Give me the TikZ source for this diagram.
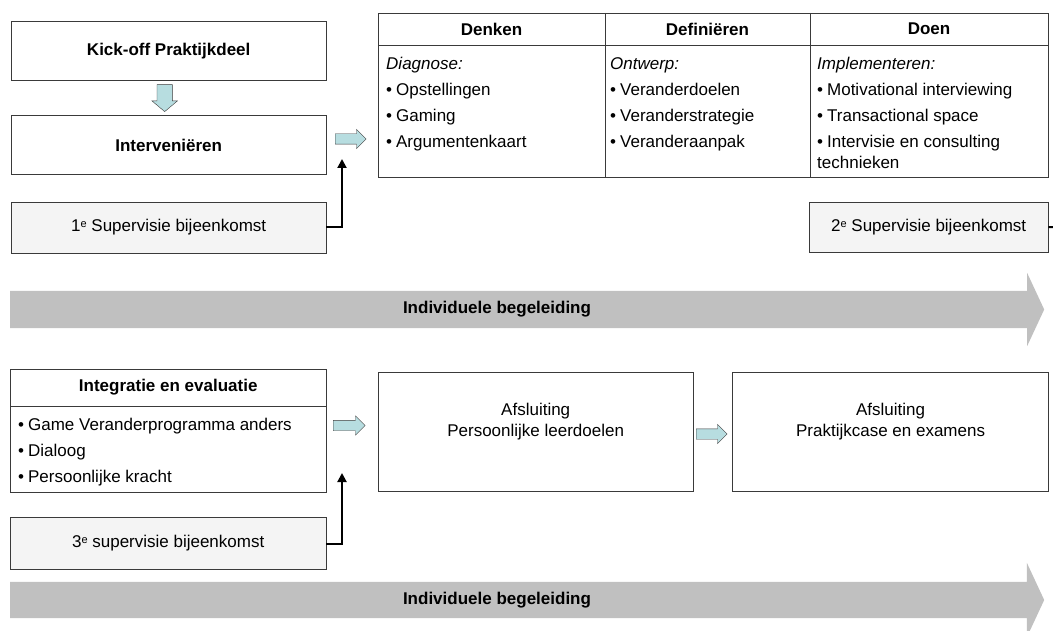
\documentclass[tikz,border=0pt]{standalone}
\usepackage{fontspec}
\setmainfont{Liberation Sans}
\usetikzlibrary{positioning, arrows.meta, shapes.arrows}
\definecolor{lijnkleur}{HTML}{3A3A3A}
\definecolor{vakgrijs}{HTML}{F4F4F4}
\definecolor{pijlblauw}{HTML}{B7DDE0}
\definecolor{balkgrijs}{HTML}{C0C0C0}
\newcommand{\opsom}{\textbullet\hspace{4pt}}
\newcommand{\supe}{\raisebox{4pt}{\fontsize{11}{11}\selectfont e}}

\begin{document}
\fontsize{17}{21}\selectfont
\begin{tikzpicture}[
        x=1pt, y=-1pt,
        node distance=8pt and 8pt,
        vak/.style={
            draw=lijnkleur, fill=white, inner sep=0pt, align=center
        },
        supervak/.style={vak, fill=vakgrijs},
        lijst/.style={
            align=left, inner sep=0pt,
            font=\fontsize{17}{26}\selectfont
        },
        blokpijl/.style={
            single arrow, draw=lijnkleur, fill=pijlblauw,
            inner xsep=0pt, inner ysep=5pt,
            single arrow head extend=4.5pt, minimum height=31pt
        },
        grijsbalk/.style={
            single arrow, fill=balkgrijs, draw=none,
            inner xsep=0pt, inner ysep=18.5pt,
            single arrow head extend=18pt, single arrow tip angle=130,
            minimum height=1034pt
        },
        verbinding/.style={-{Triangle[length=9pt,width=9pt]}, line width=2pt}
    ]

        \useasboundingbox (0,0) rectangle (1053,631);

        \node[vak, anchor=north west, minimum width=315pt, minimum height=59pt,
              font=\bfseries] (KickOff) at (11,21) {Kick-off Praktijkdeel};

        \node[vak, minimum width=315pt, minimum height=59pt, font=\bfseries,
              below=35pt of KickOff] (Interveni) {Interveniëren};

        \node[supervak, minimum width=315pt, minimum height=51pt,
              below=27pt of Interveni] (Super1) {1\supe\ Supervisie bijeenkomst};

        \node[blokpijl, rotate=-90, inner ysep=7.5pt, single arrow head extend=5pt,
              single arrow tip angle=100, minimum height=27pt, anchor=tail]
              (PijlOmlaag) at ([xshift=-4pt,yshift=-4pt]KickOff.south) {};

        \node[blokpijl, anchor=tail] (PijlRechts1) at (335,139) {};

        \node[vak, anchor=north west, minimum width=670pt, minimum height=164pt]
              (Tabel) at (378,13) {};
        \draw[lijnkleur] ([yshift=-32pt]Tabel.north west) -- ([yshift=-32pt]Tabel.north east);
        \draw[lijnkleur] ([xshift=227pt]Tabel.north west) -- ([xshift=227pt]Tabel.south west);
        \draw[lijnkleur] ([xshift=432pt]Tabel.north west) -- ([xshift=432pt]Tabel.south west);

        \node[font=\bfseries] (Denken) at (491.5,29) {Denken};
        \node[font=\bfseries] (Definieren) at (707.5,29) {Definiëren};
        \node[font=\bfseries] (Doen) at (929,29) {Doen};

        \node[lijst, anchor=north west] (DenkenLijst) at (386,57) {
            \textit{Diagnose:}\\
            \opsom Opstellingen\\
            \opsom Gaming\\
            \opsom Argumentenkaart
        };
        \node[lijst, anchor=north west] (DefinierenLijst) at (610,57) {
            \textit{Ontwerp:}\\
            \opsom Veranderdoelen\\
            \opsom Veranderstrategie\\
            \opsom Veranderaanpak
        };
        \node[lijst, anchor=north west] (DoenLijst) at (817,57) {
            \textit{Implementeren:}\\
            \opsom Motivational interviewing\\
            \opsom Transactional space\\
            \opsom Intervisie en consulting\\[-5pt]
            technieken
        };

        \node[supervak, anchor=north west, minimum width=239pt, minimum height=50pt]
              (Super2) at (809,202) {2\supe\ Supervisie bijeenkomst};
        \coordinate (Rand2) at (1056,227);

        \coordinate (Tip1) at (342,159);
        \draw[verbinding] (Super1.east) -| (Tip1);
        \draw[line width=2pt] (Super2.east) -- (Rand2);

        \node[grijsbalk, anchor=tail] (Begeleiding1) at (10,309.5) {};
        \node[font=\bfseries] (BegeleidingTekst1) at (497,309) {Individuele begeleiding};

        \node[vak, anchor=north west, minimum width=316pt, minimum height=123pt]
              (Integratie) at (10,369) {};
        \draw[lijnkleur] ([yshift=-37pt]Integratie.north west) -- ([yshift=-37pt]Integratie.north east);
        \node[font=\bfseries] (IntegratieKop) at ([yshift=-18.5pt]Integratie.north)
              {Integratie en evaluatie};
        \node[lijst, anchor=north west] (IntegratieLijst) at (18,417.6) {
            \opsom Game Veranderprogramma anders\\
            \opsom Dialoog\\
            \opsom Persoonlijke kracht
        };

        \node[supervak, minimum width=316pt, minimum height=52pt,
              below=25pt of Integratie] (Super3) {3\supe\ supervisie bijeenkomst};

        \coordinate (Tip3) at (342,473);
        \draw[verbinding] (Super3.east) -| (Tip3);

        \node[blokpijl, anchor=tail, minimum height=32pt] (PijlRechts2) at (333,425.5) {};

        \node[vak, anchor=north west, minimum width=315pt, minimum height=119pt]
              (Afsluiting1) at (378,372) {};
        \node[align=center] (AfsluitingTekst1) at ([yshift=10pt]Afsluiting1.center)
              {Afsluiting\\Persoonlijke leerdoelen};

        \node[blokpijl, anchor=tail] (PijlRechts3) at (696,434) {};

        \node[vak, minimum width=316pt, minimum height=119pt,
              right=39pt of Afsluiting1] (Afsluiting2) {};
        \node[align=center] (AfsluitingTekst2) at ([yshift=10pt]Afsluiting2.center)
              {Afsluiting\\Praktijkcase en examens};

        \node[grijsbalk, inner ysep=18pt, single arrow head extend=19pt, anchor=tail]
              (Begeleiding2) at (10,600) {};
        \node[font=\bfseries] (BegeleidingTekst2) at (497,600) {Individuele begeleiding};

    \end{tikzpicture}
\end{document}
